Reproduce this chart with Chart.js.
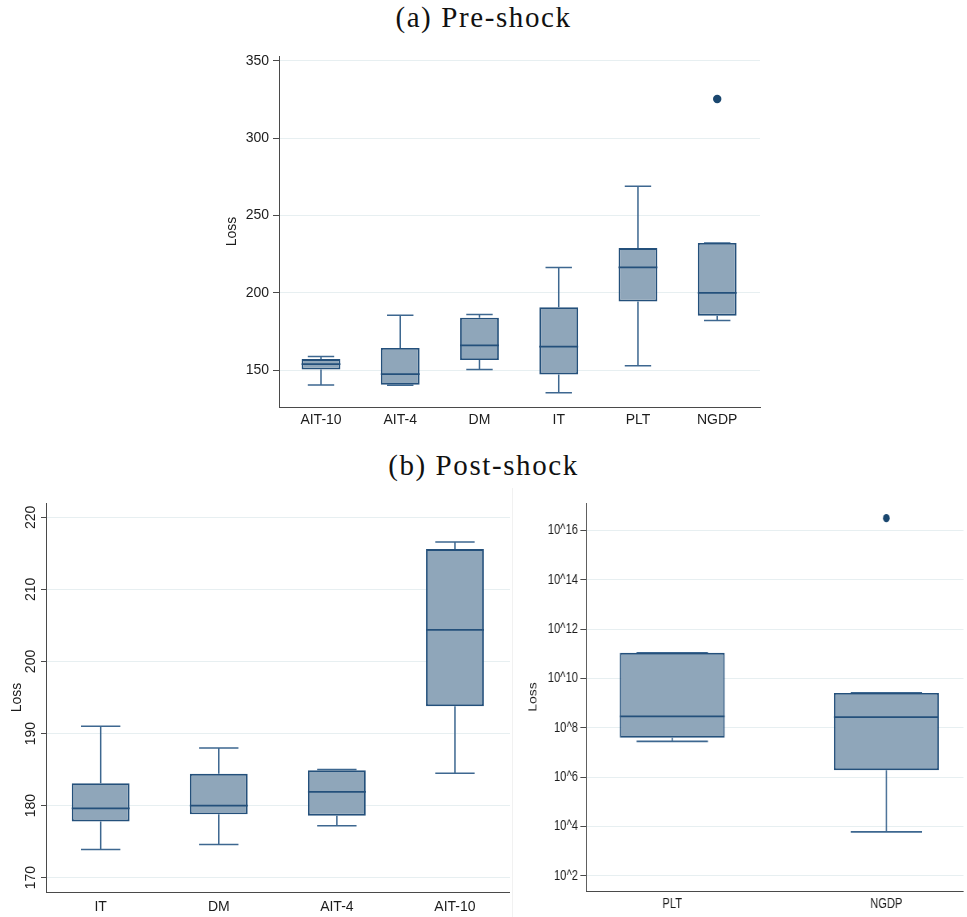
<!DOCTYPE html>
<html>
<head>
<meta charset="utf-8">
<title>Loss by policy rule</title>
<script src="https://cdn.jsdelivr.net/npm/chart.js@4.4.0/dist/chart.umd.min.js"></script>
<style>
  html, body { margin: 0; padding: 0; background: #fff; width: 967px; height: 917px; overflow: hidden; }
  .panel { position: absolute; }
  .panel canvas { display: block; }
  .caption {
    position: absolute; left: 0; width: 967px; text-align: center;
    font-family: "Liberation Serif", "Times New Roman", serif; font-size: 29px;
    line-height: 34px; color: #111; letter-spacing: 1.6px;
  }
  .divider { position: absolute; left: 512px; top: 488px; width: 1px; height: 429px; background: #f1f1f1; }
</style>
</head>
<body>
<div class="caption" style="top:0px;">(a) Pre-shock</div>
<div class="caption" style="top:448px;">(b) Post-shock</div>
<div class="divider"></div>

<div class="panel" style="left:200px; top:40px;"><canvas id="pre" width="580" height="400"></canvas></div>
<div class="panel" style="left:0px; top:490px;"><canvas id="post" width="510" height="427"></canvas></div>
<div class="panel" style="left:510px; top:490px; transform-origin:0 0; transform:scaleX(0.8);"><canvas id="tail" width="571" height="427"></canvas></div>

<script>
// ---- Pre-shock: loss distribution per policy rule ----
const preCats   = ['AIT-10', 'AIT-4', 'DM', 'IT', 'PLT', 'NGDP'];
const preLow    = [140.4, 140.1, 150.4, 135.3, 152.8, 182.0];
const preQ1     = [150.4, 140.5, 156.5, 147.2, 194.3, 185.2];
const preMedian = [153.8, 147.4, 166.0, 165.1, 216.4, 200.0];
const preQ3     = [157.1, 164.3, 183.9, 190.6, 228.9, 232.2];
const preHigh   = [158.8, 185.5, 185.9, 216.4, 268.9, 232.2];
const preOutlierCats   = ['NGDP'];
const preOutlierValues = [325.4];
const preTicks  = [150, 200, 250, 300, 350];

// ---- Post-shock: rules with moderate losses ----
const postCats   = ['IT', 'DM', 'AIT-4', 'AIT-10'];
const postLow    = [173.9, 174.6, 177.2, 184.5];
const postQ1     = [177.8, 178.8, 178.6, 193.8];
const postMedian = [179.6, 180.0, 181.9, 204.4];
const postQ3     = [183.1, 184.4, 184.9, 215.6];
const postHigh   = [191.0, 188.0, 185.0, 216.6];
const postTicks  = [170, 180, 190, 200, 210, 220];

// ---- Post-shock: rules with explosive losses (log scale) ----
const tailCats   = ['PLT', 'NGDP'];
const tailLow    = [2.8e7, 6.0e3];
const tailQ1     = [3.9e7, 1.9e6];
const tailMedian = [2.9e8, 2.7e8];
const tailQ3     = [1.1e11, 2.6e9];
const tailHigh   = [1.1e11, 2.6e9];
const tailOutlierCats   = ['NGDP'];
const tailOutlierValues = [3.2e16];
const tailTickExponents = [2, 4, 6, 8, 10, 12, 14, 16];

const BOX_FILL = '#8fa6ba';
const BOX_LINE = '#24507b';
const WHISKER  = '#3d6790';
const DOT      = '#1a476f';
const GRID     = '#e7eff1';
const AXIS     = '#4a4a4a';
const TEXT     = '#1c1c1c';
const SANS     = '"Liberation Sans", Arial, Helvetica, sans-serif';

// Whiskers, caps and median lines, positioned through the chart's own scales.
function boxPlugin(stats, boxWidth, capRatio, lineWidth) {
  return {
    id: 'boxWhiskers',
    beforeDatasetsDraw(chart) {
      const { ctx, scales: { x, y } } = chart;
      const half = x.getPixelForValue(1 + boxWidth / 2) - x.getPixelForValue(1);
      const cap = half * capRatio;
      ctx.save();
      ctx.strokeStyle = WHISKER;
      ctx.lineWidth = lineWidth;
      stats.low.forEach((lo, i) => {
        const cx = x.getPixelForValue(i + 1);
        const yLo = y.getPixelForValue(lo);
        const yHi = y.getPixelForValue(stats.high[i]);
        const yQ1 = y.getPixelForValue(stats.q1[i]);
        const yQ3 = y.getPixelForValue(stats.q3[i]);
        ctx.beginPath();
        ctx.moveTo(cx, yQ1); ctx.lineTo(cx, yLo);
        ctx.moveTo(cx, yQ3); ctx.lineTo(cx, yHi);
        ctx.moveTo(cx - cap, yLo); ctx.lineTo(cx + cap, yLo);
        ctx.moveTo(cx - cap, yHi); ctx.lineTo(cx + cap, yHi);
        ctx.stroke();
      });
      ctx.restore();
    },
    afterDatasetsDraw(chart) {
      const { ctx, scales: { x, y } } = chart;
      const half = x.getPixelForValue(1 + boxWidth / 2) - x.getPixelForValue(1);
      ctx.save();
      ctx.strokeStyle = BOX_LINE;
      ctx.lineWidth = lineWidth + 0.3;
      stats.median.forEach((m, i) => {
        const cx = x.getPixelForValue(i + 1);
        const ym = y.getPixelForValue(m);
        ctx.beginPath();
        ctx.moveTo(cx - half, ym); ctx.lineTo(cx + half, ym);
        ctx.stroke();
      });
      ctx.restore();
    }
  };
}

function makeBoxChart(id, s) {
  const boxWidth = 0.49;
  const boxes = s.cats.map((c, i) => ({ x: i + 1, y: [s.q1[i], s.q3[i]] }));
  const outliers = s.outCats.map((c, i) => ({ x: s.cats.indexOf(c) + 1, y: s.outVals[i] }));
  const font = { family: SANS, size: 14 };

  return new Chart(document.getElementById(id), {
    type: 'bar',
    data: {
      datasets: [
        {
          type: 'bar',
          data: boxes,
          backgroundColor: BOX_FILL,
          borderColor: BOX_LINE,
          borderWidth: s.lineWidth + 0.3,
          borderSkipped: false,
          barPercentage: boxWidth,
          categoryPercentage: 1
        },
        {
          type: 'scatter',
          data: outliers,
          showLine: false,
          pointRadius: s.dotRadius,
          pointBackgroundColor: DOT,
          pointBorderWidth: 0
        }
      ]
    },
    options: {
      responsive: false,
      animation: false,
      events: [],
      layout: { padding: s.padding },
      plugins: { legend: { display: false }, tooltip: { enabled: false } },
      scales: {
        x: {
          type: 'linear',
          offset: false,
          min: s.xMin,
          max: s.xMax,
          afterFit: sc => { sc.height = s.xHeight; },
          afterBuildTicks: sc => { sc.ticks = s.cats.map((c, i) => ({ value: i + 1 })); },
          ticks: {
            callback: v => s.cats[Math.round(v) - 1],
            font, color: TEXT, padding: s.xPad, maxRotation: 0, autoSkip: false
          },
          grid: { display: false, drawTicks: false },
          border: { display: true, color: AXIS, width: 1 }
        },
        y: {
          type: s.yType,
          min: s.yMin,
          max: s.yMax,
          afterFit: sc => { sc.width = s.yWidth; },
          afterBuildTicks: sc => { sc.ticks = s.ticks.map(v => ({ value: v })); },
          ticks: {
            callback: s.tickLabel,
            font, color: TEXT, padding: s.yPad,
            minRotation: s.rot, maxRotation: s.rot,
            crossAlign: s.rot ? 'center' : 'near'
          },
          grid: { color: GRID, lineWidth: 1, tickColor: AXIS, tickLength: s.tickLen, drawTicks: true },
          border: { display: true, color: AXIS, width: 1 },
          title: {
            display: true, text: 'Loss', font, color: TEXT,
            padding: { top: s.titlePad, bottom: 0 }
          }
        }
      }
    },
    plugins: [boxPlugin({ low: s.low, q1: s.q1, median: s.median, q3: s.q3, high: s.high },
                        boxWidth, 0.68, s.lineWidth)]
  });
}

makeBoxChart('pre', {
  cats: preCats, low: preLow, q1: preQ1, median: preMedian, q3: preQ3, high: preHigh,
  outCats: preOutlierCats, outVals: preOutlierValues,
  ticks: preTicks, tickLabel: v => String(v),
  yType: 'linear', yMin: 126.1, yMax: 353.2, xMin: 0.47, xMax: 6.54,
  padding: { left: 0, right: 20, top: 16, bottom: 0 },
  yWidth: 79, xHeight: 33, xPad: 5, yPad: 4, tickLen: 6, rot: 0, titlePad: 23.6,
  lineWidth: 1.5, dotRadius: 4.2
});

makeBoxChart('post', {
  cats: postCats, low: postLow, q1: postQ1, median: postMedian, q3: postQ3, high: postHigh,
  outCats: [], outVals: [],
  ticks: postTicks, tickLabel: v => String(v),
  yType: 'linear', yMin: 168.0, yMax: 222.0, xMin: 0.537, xMax: 4.466,
  padding: { left: 0, right: 0, top: 13, bottom: 0 },
  yWidth: 46, xHeight: 25, xPad: 7, yPad: -1.5, tickLen: 5, rot: 90, titlePad: 8.6,
  lineWidth: 1.5, dotRadius: 4.2
});

makeBoxChart('tail', {
  cats: tailCats, low: tailLow, q1: tailQ1, median: tailMedian, q3: tailQ3, high: tailHigh,
  outCats: tailOutlierCats, outVals: tailOutlierValues,
  ticks: tailTickExponents.map(e => Math.pow(10, e)),
  tickLabel: v => '10^' + Math.round(Math.log10(v)),
  yType: 'logarithmic', yMin: Math.pow(10, 1.378), yMax: Math.pow(10, 17.12),
  xMin: 0.597, xMax: 2.36,
  padding: { left: 0, right: 0, top: 13, bottom: 0 },
  yWidth: 95, xHeight: 26, xPad: 5, yPad: 3, tickLen: 7, rot: 0, titlePad: 20.3,
  lineWidth: 1.6, dotRadius: 4.2
});
</script>
</body>
</html>
